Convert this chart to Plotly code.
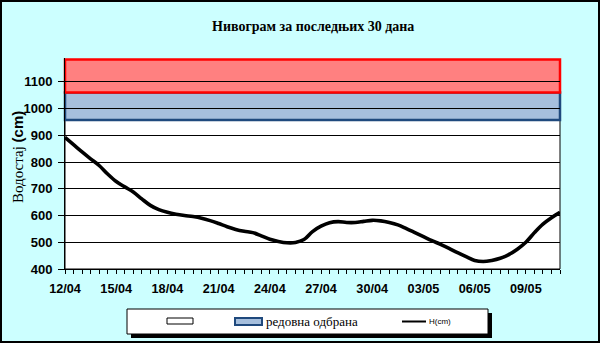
import pandas as pd
import plotly.graph_objects as go

# ---- data ----
start_date = "2024-04-12"
levels_cm = [892, 865, 838, 812, 787, 755, 727, 707, 688, 662,
             638, 622, 612, 605, 600, 596, 590, 581, 570, 558,
             548, 541, 536, 524, 511, 503, 498, 499, 510, 540,
             560, 573, 577, 574, 574, 578, 582, 580, 574, 565,
             551, 536, 521, 506, 492, 477, 461, 446, 432, 428,
             432, 440, 454, 474, 500, 536, 568, 592, 612]
dates = pd.date_range(start_date, periods=len(levels_cm), freq="12h")

band_regular = [957, 1060]     # редовна одбрана
band_emergency = [1060, 1183]  # upper band
y_ticks = [400, 500, 600, 700, 800, 900, 1000, 1100]

title_text = "Нивограм за последњих 30 дана"
ytitle_text = "Водостај <b style='font-family:Liberation Sans'>(cm)</b>"
legend_regular = "редовна одбрана"
legend_line = "H(cm)"

# ---- layout geometry ----
W, H = 600, 343
L, R, T, B = 65, 40, 58, 74
PW, PH = W - L - R, H - T - B
BG = "#CCFFFF"


def px(x):
    return (x - L) / PW


def py(y):
    return (H - B - y) / PH


fig = go.Figure()
fig.add_trace(go.Scatter(
    x=dates, y=levels_cm, mode="lines",
    line=dict(color="black", width=3.6, shape="spline", smoothing=1.0),
    showlegend=False, hoverinfo="x+y"))

shapes = []
# white plot region
shapes.append(dict(type="rect", xref="x domain", yref="y", x0=0, x1=1, y0=400, y1=band_regular[0],
                   fillcolor="white", line=dict(color="black", width=1), layer="below"))
shapes.append(dict(type="rect", xref="x domain", yref="y", x0=0, x1=1,
                   y0=band_regular[0], y1=band_regular[1],
                   fillcolor="#A6BFDD", line=dict(color="#1F497D", width=2.5), layer="below"))
shapes.append(dict(type="rect", xref="x domain", yref="y", x0=0, x1=1,
                   y0=band_emergency[0], y1=band_emergency[1],
                   fillcolor="#FF8080", line=dict(color="#FF0000", width=2.5), layer="below"))

# outer border
shapes.append(dict(type="rect", xref="paper", yref="paper", x0=px(1), x1=px(599), y0=py(1), y1=py(342),
                   line=dict(color="black", width=2), fillcolor="rgba(0,0,0,0)"))

# manual legend: shadow + box
shapes.append(dict(type="rect", xref="paper", yref="paper", x0=px(131), x1=px(492), y0=py(313), y1=py(338),
                   fillcolor="black", line=dict(width=0)))
shapes.append(dict(type="rect", xref="paper", yref="paper", x0=px(127), x1=px(488), y0=py(309), y1=py(334),
                   fillcolor="white", line=dict(color="black", width=1)))
# legend symbols
shapes.append(dict(type="rect", xref="paper", yref="paper", x0=px(167), x1=px(193), y0=py(318), y1=py(324),
                   fillcolor="white", line=dict(color="black", width=1)))
shapes.append(dict(type="rect", xref="paper", yref="paper", x0=px(235), x1=px(262), y0=py(318), y1=py(325),
                   fillcolor="#A6BFDD", line=dict(color="#1F497D", width=2)))
shapes.append(dict(type="line", xref="paper", yref="paper", x0=px(402), x1=px(426), y0=py(321.5), y1=py(321.5),
                   line=dict(color="black", width=2)))

annotations = [
    dict(text=title_text, xref="paper", yref="paper", x=px(313), y=py(26), showarrow=False,
         xanchor="center", yanchor="middle",
         font=dict(family="Liberation Serif", size=14, color="black", weight="bold")),
    dict(text=ytitle_text, xref="paper", yref="paper", x=px(17), y=py(157), showarrow=False,
         textangle=-90, xanchor="center", yanchor="middle",
         font=dict(family="Liberation Serif", size=15, color="black")),
    dict(text=legend_regular, xref="paper", yref="paper", x=px(264), y=py(321.5), showarrow=False,
         xanchor="left", yanchor="middle",
         font=dict(family="Liberation Serif", size=13, color="black")),
    dict(text=legend_line, xref="paper", yref="paper", x=px(427), y=py(321.5), showarrow=False,
         xanchor="left", yanchor="middle",
         font=dict(family="Liberation Sans", size=8, color="black")),
]

fig.update_layout(
    width=W, height=H,
    margin=dict(l=L, r=R, t=T, b=B, pad=0),
    paper_bgcolor=BG, plot_bgcolor=BG,
    showlegend=False,
    shapes=shapes, annotations=annotations,
    xaxis=dict(
        type="date",
        range=[start_date, "2024-05-11"],
        tick0=start_date, dtick=3 * 86400000, tickformat="%d/%m",
        ticks="outside", ticklen=4, tickcolor="black", tickwidth=1,
        ticklabelstandoff=4,
        showline=True, linecolor="black", linewidth=1,
        showgrid=False, zeroline=False,
        tickfont=dict(family="Liberation Sans", size=12.7, color="black", weight="bold"),
        minor=dict(dtick=43200000, tick0=start_date, ticks="outside", ticklen=4,
                   tickcolor="black", tickwidth=1, showgrid=False),
    ),
    yaxis=dict(
        range=[400, 1189], tickvals=y_ticks,
        ticks="outside", ticklen=6, tickcolor="black", tickwidth=1,
        ticklabelstandoff=3,
        showline=True, linecolor="black", linewidth=1,
        showgrid=True, gridcolor="black", gridwidth=1, zeroline=False,
        tickfont=dict(family="Liberation Sans", size=13, color="black", weight="bold"),
    ),
)

fig.write_html("out.html")
